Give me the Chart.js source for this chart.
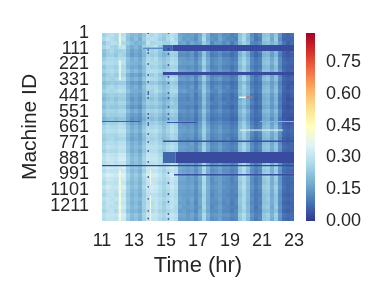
<!DOCTYPE html>
<html>
<head>
<meta charset="utf-8">
<script src="https://cdn.jsdelivr.net/npm/chart.js@4"></script>
<style>
  html, body { margin: 0; padding: 0; background: #fff; }
  #wrap { position: relative; width: 380px; height: 300px; overflow: hidden; }
  #heat { position: absolute; left: 0; top: 0; }
  #cbar { position: absolute; left: 296px; top: 0; }
</style>
</head>
<body>
<div id="wrap">
  <canvas id="heat" width="380" height="300"></canvas>
  <canvas id="cbar" width="84" height="300"></canvas>
</div>
<script>
const hourTicks = [11, 13, 15, 17, 19, 21, 23];
const machineTicks = [1, 111, 221, 331, 441, 551, 661, 771, 881, 991, 1101, 1211];
const colorTicks = [0, 0.15, 0.30, 0.45, 0.60, 0.75];
const colorMax = 0.888;
const hourMin = 11, hourMax = 23, hourStep = 0.25;
const machineMin = 1, machineMax = 1317, machineStep = 28;

// utilisation, in hundredths: one line per 28 machines, one value per 15 min
const cellRows = [
[25,28,29,27,28,29,23,20,21,19,23,29,27,29,26,24,26,29,27,17,16,15,16,14,17,25,19,13,14,16,13,13,11,12,22,26,21,13,10,12,22,23,18,23,14,8,7,8],
[27,30,28,26,30,30,22,19,22,18,24,28,29,28,25,23,27,30,26,18,15,16,15,13,18,27,18,14,13,17,14,12,12,11,23,27,20,14,9,11,23,24,17,24,13,7,7,7],
[23,27,29,28,27,27,24,21,19,20,22,30,26,27,27,25,25,28,28,16,17,14,17,15,16,24,20,12,15,15,12,14,10,13,21,25,22,12,11,13,21,22,19,22,15,9,6,8],
[26,29,26,25,30,31,21,18,20,17,25,27,28,30,24,22,28,31,25,15,16,15,14,12,17,26,17,13,12,16,13,11,11,12,24,28,21,13,10,10,22,25,18,23,12,8,8,6],
[22,25,27,24,25,26,20,16,18,16,21,26,25,26,23,21,22,26,25,14,14,13,15,11,15,23,16,11,12,14,11,12,9,10,20,24,19,11,8,11,20,21,16,21,12,7,5,7],
[21,24,25,23,26,25,19,15,17,15,20,25,24,25,22,19,21,25,24,13,13,12,14,10,14,22,15,10,11,13,10,10,8,10,19,23,18,10,7,9,19,20,15,20,11,6,5,6],
[24,27,27,26,28,28,22,18,20,17,22,27,26,28,24,22,24,27,26,15,15,14,15,12,16,24,17,12,13,15,12,12,10,11,21,25,20,12,9,11,21,22,17,22,13,7,6,7],
[26,28,28,27,30,29,21,19,19,18,23,28,27,27,25,23,25,28,27,16,15,15,16,13,17,25,18,12,14,15,13,12,11,12,22,26,21,12,10,11,22,23,18,23,13,8,7,7],
[23,26,26,25,27,27,20,17,18,16,21,27,25,26,24,21,23,26,25,14,14,13,14,12,15,23,16,11,12,14,11,11,9,11,20,24,19,11,9,10,20,21,16,21,12,7,6,6],
[25,27,28,26,28,28,23,19,21,18,22,28,28,28,26,24,26,27,27,16,16,15,15,13,16,25,18,13,13,15,13,13,10,12,22,25,20,13,10,12,22,22,18,22,14,8,6,7],
[22,25,26,24,25,26,19,16,17,15,20,26,24,26,23,20,22,25,24,13,14,13,14,11,15,23,15,11,12,13,11,11,9,10,20,24,18,11,8,10,19,21,16,21,12,6,5,6],
[24,26,25,26,29,29,21,18,20,17,23,28,27,27,24,22,25,28,26,15,15,14,16,12,17,24,17,12,14,15,12,12,10,11,21,26,20,12,9,11,21,23,17,22,13,7,6,7],
[21,23,24,23,24,24,18,15,16,14,19,24,23,24,21,19,21,24,23,12,13,12,13,10,14,21,14,10,11,12,10,10,8,9,19,22,17,10,8,9,18,19,15,19,11,6,5,5],
[23,26,27,25,27,27,20,17,19,16,22,27,26,27,24,21,23,26,25,14,14,13,15,11,16,23,16,11,13,14,11,12,9,10,20,25,19,11,9,10,20,21,16,21,12,7,5,6],
[25,27,26,27,29,28,22,18,18,17,21,26,25,28,25,22,24,27,27,15,16,14,14,12,15,24,17,12,12,15,12,11,10,11,21,24,20,12,9,11,21,22,17,22,13,7,6,7],
[22,24,25,24,25,25,19,16,17,15,20,25,24,25,22,20,22,25,24,13,13,12,14,10,14,22,15,10,11,13,10,10,8,10,19,23,18,10,8,9,19,20,15,20,11,6,5,6],
[20,23,24,22,24,24,18,14,16,14,19,24,22,24,21,18,20,23,22,12,12,11,13,10,13,21,14,9,11,12,9,10,8,9,18,22,17,10,7,9,18,19,14,19,10,6,4,5],
[23,25,25,24,26,26,20,16,17,15,21,25,24,25,23,20,22,25,23,13,13,13,13,11,14,22,15,11,11,13,11,10,9,10,20,23,18,11,8,10,19,20,15,20,11,6,5,6],
[21,24,23,23,24,24,17,14,15,13,19,23,22,23,21,18,21,23,23,12,12,11,12,9,13,20,14,9,10,12,9,9,7,9,18,21,16,9,7,8,17,18,14,18,10,5,4,5],
[24,26,26,25,27,27,21,17,19,16,22,26,25,26,24,21,24,26,25,14,14,13,14,11,15,23,16,11,12,14,11,11,9,10,20,24,19,11,8,10,20,21,16,21,12,6,5,6],
[22,25,24,24,25,25,18,15,16,14,20,24,23,24,22,19,22,24,23,12,13,12,13,10,14,21,14,10,11,12,10,10,8,9,19,22,17,10,8,9,18,19,15,19,11,5,5,5],
[20,22,23,21,23,23,17,13,15,13,18,23,21,23,20,18,20,22,22,11,12,11,12,9,13,20,13,9,10,11,9,9,7,8,17,21,16,9,7,8,17,18,13,18,9,5,4,4],
[23,26,25,25,27,26,20,16,18,15,21,26,24,25,23,21,23,26,24,14,13,13,14,11,15,23,15,11,12,13,11,11,9,10,20,24,18,11,8,10,19,21,16,20,11,6,5,6],
[26,28,27,27,29,28,22,18,20,17,23,27,26,27,25,22,25,28,26,15,15,14,15,12,16,24,17,12,13,15,12,12,10,11,21,25,20,12,9,11,21,22,17,22,13,7,6,7],
[27,29,29,28,30,30,23,19,21,18,24,28,28,29,26,23,26,29,27,16,16,15,16,13,17,25,18,13,14,16,13,13,11,12,22,26,21,13,10,12,22,23,18,23,14,8,7,8],
[25,27,26,26,28,28,21,17,19,16,22,27,26,27,24,22,24,27,25,15,14,14,15,12,16,24,16,12,13,14,12,11,10,11,21,25,19,12,9,11,21,22,17,21,13,7,6,7],
[24,26,27,25,26,27,20,16,18,16,21,26,25,26,24,21,23,26,25,14,14,13,14,11,15,23,16,11,12,14,11,12,9,10,20,24,19,11,8,10,20,21,16,21,12,6,5,6],
[26,28,28,27,29,29,22,18,20,17,23,28,27,28,25,23,25,27,26,15,15,14,16,12,16,24,17,12,13,15,12,12,10,11,21,25,20,12,9,11,21,22,17,22,13,7,6,7],
[27,30,29,28,30,30,23,19,21,19,24,29,29,29,27,24,27,29,27,16,16,15,15,13,17,25,18,13,14,16,13,12,11,12,22,26,21,13,10,12,22,23,18,23,14,8,7,7],
[25,28,27,27,29,29,22,18,20,17,23,28,28,28,25,23,26,28,26,15,15,14,15,12,16,25,17,12,13,15,12,12,10,11,21,25,20,12,9,11,21,22,17,22,13,7,6,7],
[28,31,30,29,32,32,24,20,22,19,25,30,30,30,27,25,28,30,28,17,16,15,17,13,17,26,18,13,14,16,13,13,11,12,23,27,21,13,10,12,23,24,18,24,14,8,7,8],
[29,32,31,30,33,33,25,21,23,20,26,31,31,31,28,26,29,31,29,17,17,16,16,14,18,27,19,14,15,17,14,13,12,13,24,28,22,14,11,13,24,25,19,25,15,9,7,8],
[28,30,31,29,31,31,24,20,22,20,25,30,29,30,28,25,27,30,28,16,16,15,16,13,17,26,18,13,14,16,13,13,11,12,23,27,21,13,10,12,22,24,18,23,14,8,7,8],
[30,33,32,31,33,34,25,22,23,21,27,32,32,32,29,27,30,32,30,18,17,16,17,14,18,27,19,14,15,17,14,14,12,13,24,28,22,14,11,13,24,25,19,25,15,9,8,8],
[28,31,30,30,31,32,24,20,22,19,25,31,30,30,28,25,28,30,29,17,16,15,16,13,17,26,18,13,14,16,13,13,11,12,23,27,21,13,10,12,23,24,18,24,14,8,7,7],
[31,34,33,32,34,35,26,22,24,21,28,33,33,33,30,27,30,33,30,18,18,16,17,14,19,28,19,14,15,17,14,14,12,13,25,29,22,14,11,13,25,26,19,25,15,9,8,9],
[29,32,31,30,32,33,25,21,23,20,26,31,31,31,29,26,28,31,29,17,17,15,16,14,18,27,18,13,15,16,14,13,11,13,24,27,22,13,10,12,23,25,18,24,14,8,7,8],
[27,30,30,29,31,31,23,20,22,19,25,30,31,30,27,25,27,30,28,16,16,15,16,13,17,26,18,13,14,16,13,13,11,12,23,27,21,13,10,12,22,24,18,23,14,8,7,7],
[30,33,31,31,33,34,25,21,23,20,27,32,33,32,29,26,29,32,29,17,17,16,17,14,18,27,19,14,15,16,14,13,12,12,24,28,22,14,11,13,24,25,19,25,15,9,7,8],
[28,31,30,29,32,32,24,20,21,19,25,30,32,31,28,25,27,30,28,16,16,15,16,13,17,26,18,13,14,16,13,13,11,12,23,27,21,13,10,12,23,24,18,24,14,8,7,8],
[26,29,30,28,30,30,23,19,21,18,24,29,29,29,27,24,26,29,27,16,15,15,15,13,16,25,18,12,14,15,13,12,11,11,22,26,21,12,10,11,22,23,17,23,13,7,6,7],
[29,31,29,30,32,32,24,20,22,20,25,30,30,30,28,26,28,30,28,17,16,15,17,13,17,26,18,13,14,16,13,13,11,12,23,27,21,13,10,12,22,24,18,23,14,8,7,8],
[27,30,30,28,31,31,23,19,21,18,25,29,28,30,27,24,27,29,28,16,16,14,16,12,17,25,17,13,13,15,12,13,10,12,23,26,20,12,10,11,22,23,18,23,13,7,6,7],
[28,30,29,29,33,32,24,20,22,19,25,30,29,30,28,25,28,30,27,17,15,15,16,13,16,26,18,12,14,16,13,12,11,11,22,27,21,13,9,12,23,24,17,24,14,8,7,7],
[26,29,30,27,30,30,22,19,20,18,24,29,27,29,26,24,26,28,27,15,16,14,15,12,17,24,17,13,13,15,12,12,10,12,22,25,20,12,10,11,21,22,18,22,13,7,6,7],
[29,31,31,30,34,33,25,21,23,20,26,31,31,31,28,26,29,31,29,17,17,15,17,14,18,27,19,14,15,16,14,14,12,13,24,28,22,14,11,12,23,25,19,25,15,9,8,8],
[28,30,30,29,32,32,24,20,22,19,25,30,30,30,27,25,28,30,28,16,16,15,16,13,17,26,18,13,14,16,13,13,11,12,23,27,21,13,10,12,23,24,18,24,14,8,7,8]
];

// streaks that run across the rows
const streakFrom  = [85, 85, 103, 274, 617, 624, 617, 446, 446, 677, 753, 834, 834, 925, 988];
const streakTo    = [127, 127, 113, 295, 624, 631, 624, 456, 456, 684, 764, 911, 911, 933, 998];
const streakStart = [14.81, 15.4, 13.56, 14.81, 11, 15.06, 20.88, 19.56, 20, 19.63, 14.81, 14.81, 15.6, 11, 15.5];
const streakEnd   = [15.4, 23, 14.81, 23, 13.4, 16.94, 23, 20, 20.4, 22.31, 23, 15.6, 23, 23, 23];
const streakValue = [0.07, 0.03, 0.13, 0.03, 0.06, 0.04, 0.2, 0.38, 0.72, 0.38, 0.04, 0.07, 0.03, 0.02, 0.03];

// pale thin columns, mostly near the start of the day
const ridgeHour  = [12.125, 12.125, 12.125, 14.03, 14.03];
const ridgeFrom  = [1, 190, 960, 960, 1140];
const ridgeTo    = [90, 330, 1317, 1060, 1317];
const ridgeValue = [0.41, 0.38, 0.42, 0.40, 0.39];

// machines that read zero for one sample, around 13:53 and 15:09
const zeroHourA = 13.89;
const zeroMachinesA = [3, 120, 141, 218, 295, 344, 414, 428, 456, 568, 596, 631, 645, 708, 764, 827, 904, 1009, 1078, 1162, 1246, 1300];
const zeroHourB = 15.15;
const zeroMachinesB = [1, 113, 148, 225, 309, 351, 421, 456, 519, 568, 603, 981, 1051, 1128, 1183, 1268, 1303];

const cmapStops = ['#313695','#4575b4','#74add1','#abd9e9','#e0f3f8','#ffffbf','#fee090','#fdae61','#f46d43','#d73027','#a50026'];
const textColor = '#262626';
const fontName = '"Liberation Sans", Arial, sans-serif';

function colorFor(v) {
    const t = Math.max(0, Math.min(1, v / colorMax)) * (cmapStops.length - 1);
    const i = Math.min(Math.floor(t), cmapStops.length - 2);
    const f = t - i;
    const a = cmapStops[i], b = cmapStops[i + 1];
    const mix = n => {
        const x = parseInt(a.substr(n, 2), 16), y = parseInt(b.substr(n, 2), 16);
        return Math.round(x + (y - x) * f);
    };
    return `rgb(${mix(1)},${mix(3)},${mix(5)})`;
}

const plotHeight = 188;
const pxPerMachine = plotHeight / (machineMax - machineMin);

const cells = [];
const cellColors = [];
cellRows.forEach((row, r) => {
    row.forEach((val, c) => {
        cells.push({ x: hourMin + (c + 0.5) * hourStep, y: machineMin + (r + 0.5) * machineStep });
        cellColors.push(colorFor(val / 100));
    });
});

// chart.js paints high order first, so the cells stay under the streaks and dots
const datasets = [{
    order: 3,
    data: cells,
    pointStyle: 'rect',
    pointRadius: 2.83,
    pointHoverRadius: 2.83,
    pointBorderWidth: 0,
    pointBackgroundColor: cellColors,
    showLine: false
}];

ridgeHour.forEach((hour, i) => {
    datasets.push({
        order: 2,
        data: [{ x: hour, y: ridgeFrom[i] }, { x: hour, y: ridgeTo[i] }],
        showLine: true,
        borderColor: colorFor(ridgeValue[i]),
        borderWidth: 1,
        borderCapStyle: 'butt',
        pointRadius: 0
    });
});

streakFrom.forEach((from, i) => {
    const mid = (from + streakTo[i]) / 2;
    datasets.push({
        order: 1,
        data: [{ x: streakStart[i], y: mid }, { x: streakEnd[i], y: mid }],
        showLine: true,
        borderColor: colorFor(streakValue[i]),
        borderWidth: (streakTo[i] - from) * pxPerMachine,
        borderCapStyle: 'butt',
        pointRadius: 0
    });
});

[[zeroHourA, zeroMachinesA], [zeroHourB, zeroMachinesB]].forEach(([hour, machines]) => {
    datasets.push({
        order: 0,
        data: machines.map(m => ({ x: hour, y: m })),
        showLine: false,
        pointStyle: 'rect',
        pointRadius: 1,
        pointBorderWidth: 0,
        pointBackgroundColor: colorFor(0)
    });
});

new Chart(document.getElementById('heat'), {
    type: 'scatter',
    data: { datasets },
    options: {
        responsive: false,
        animation: false,
        events: [],
        layout: { padding: { left: 18, right: 86, top: 33, bottom: 21 } },
        plugins: { legend: { display: false }, tooltip: { enabled: false } },
        scales: {
            x: {
                type: 'linear',
                min: hourMin,
                max: hourMax,
                afterBuildTicks: s => { s.ticks = hourTicks.map(v => ({ value: v })); },
                afterFit: s => { s.height = 58; },
                grid: { display: false },
                border: { display: false },
                ticks: { color: textColor, font: { family: fontName, size: 18 }, padding: 1, autoSkip: false, maxRotation: 0, callback: v => String(v) },
                title: { display: true, text: 'Time (hr)', color: textColor, font: { family: fontName, size: 22 }, padding: { top: 3, bottom: 0 } }
            },
            y: {
                type: 'linear',
                reverse: true,
                min: machineMin,
                max: machineMax,
                afterBuildTicks: s => { s.ticks = machineTicks.map(v => ({ value: v })); },
                afterFit: s => { s.width = 84; },
                grid: { display: false },
                border: { display: false },
                ticks: { color: textColor, font: { family: fontName, size: 18 }, padding: 5, autoSkip: false, callback: v => String(v) },
                title: { display: true, text: 'Machine ID', color: textColor, font: { family: fontName, size: 21 }, padding: { top: 0, bottom: 0 } }
            }
        }
    }
});

new Chart(document.getElementById('cbar'), {
    type: 'bar',
    data: {
        labels: [''],
        datasets: [{
            data: [[0, colorMax]],
            barPercentage: 1,
            categoryPercentage: 1,
            backgroundColor: ctx => {
                const area = ctx.chart.chartArea;
                if (!area) return cmapStops[0];
                const g = ctx.chart.ctx.createLinearGradient(0, area.bottom, 0, area.top);
                cmapStops.forEach((c, i) => g.addColorStop(i / (cmapStops.length - 1), c));
                return g;
            }
        }]
    },
    options: {
        responsive: false,
        animation: false,
        events: [],
        layout: { padding: { left: 10, right: 0, top: 33, bottom: 79 } },
        plugins: { legend: { display: false }, tooltip: { enabled: false } },
        scales: {
            x: { display: false },
            y: {
                position: 'right',
                min: 0,
                max: colorMax,
                afterBuildTicks: s => { s.ticks = colorTicks.map(v => ({ value: v })); },
                afterFit: s => { s.width = 65; },
                grid: { display: false },
                border: { display: false },
                ticks: { color: textColor, font: { family: fontName, size: 18 }, padding: 3, autoSkip: false, callback: v => v.toFixed(2) }
            }
        }
    }
});
</script>
</body>
</html>
